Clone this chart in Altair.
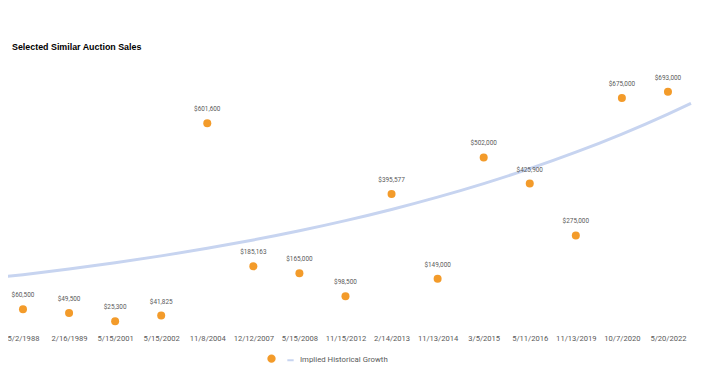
import json
import altair as alt
import pandas as pd

# ---- data ----
dates = ["5/2/1988", "2/16/1989", "5/15/2001", "5/15/2002", "11/8/2004",
         "12/12/2007", "5/15/2008", "11/15/2012", "2/14/2013", "11/13/2014",
         "3/5/2015", "5/11/2016", "11/13/2019", "10/7/2020", "5/20/2022"]
prices = [60500, 49500, 25300, 41825, 601600, 185163, 165000, 98500,
          395577, 149000, 502000, 425900, 275000, 675000, 693000]

# implied historical growth curve at category positions
trend_pos = [-0.5, 0, 1, 2, 3, 4, 5, 6, 7, 8, 9, 10, 11, 12, 13, 14, 14.5]
trend_vals = [153400, 161000, 177500, 195600, 215600, 237600, 261900, 288600,
              318100, 350600, 386400, 425800, 469300, 517200, 570000, 628200,
              659500]

SALES = " "
GROWTH = "Implied Historical Growth"
ORANGE = "#F39B2A"
BLUE = "#C7D4F0"

pts = pd.DataFrame({"idx": list(range(len(dates))), "date": dates,
                    "price": prices, "series": SALES})
trend = pd.DataFrame({"idx": trend_pos, "price": trend_vals, "series": GROWTH})

label_expr = "[" + ",".join(json.dumps(d) for d in dates) + "][round(datum.value)]"

x_scale = alt.Scale(domain=[-0.282, 14.5], nice=False, zero=False)
y_scale = alt.Scale(domain=[0, 800000], nice=False)
x_axis = alt.Axis(values=list(range(len(dates))), labelExpr=label_expr,
                  title=None, grid=False, domain=False, ticks=False,
                  labelFont="Roboto", labelFontSize=7.6, labelColor="#5a5a5a",
                  labelPadding=4, labelOverlap=False)

legend = alt.Legend(title=None, orient="none", direction="horizontal",
                    legendX=257, legendY=299,
                    labelFont="Roboto", labelFontSize=7.8,
                    labelColor="#5a5a5a", symbolSize=40,
                    symbolStrokeWidth=2, labelOffset=5, columnPadding=2)

color = alt.Color("series:N",
                  scale=alt.Scale(domain=[SALES, GROWTH], range=[ORANGE, BLUE]),
                  legend=legend)
shape = alt.Shape("series:N",
                  scale=alt.Scale(domain=[SALES, GROWTH], range=["circle", "stroke"]),
                  legend=legend)

line = alt.Chart(trend).mark_line(strokeWidth=3, interpolate="monotone").encode(
    x=alt.X("idx:Q", scale=x_scale, axis=x_axis),
    y=alt.Y("price:Q", scale=y_scale, axis=None),
    color=color,
)

points = alt.Chart(pts).mark_point(filled=True, size=64, opacity=1).encode(
    x=alt.X("idx:Q", scale=x_scale, axis=x_axis),
    y=alt.Y("price:Q", scale=y_scale, axis=None),
    color=color,
    shape=shape,
)

labels = alt.Chart(pts).transform_calculate(
    lab="format(datum.price, '$,')"
).mark_text(dy=-14, font="Roboto", fontSize=6.4, color="#5a5a5a").encode(
    x=alt.X("idx:Q", scale=x_scale, axis=x_axis),
    y=alt.Y("price:Q", scale=y_scale, axis=None),
    text="lab:N",
)

chart = alt.layer(line, points, labels).properties(
    width=681, height=275,
    title=alt.TitleParams("Selected Similar Auction Sales", anchor="start",
                          frame="group",
                          font="Liberation Sans", fontSize=8.9, fontWeight="bold",
                          color="#000000", offset=4.5, dx=2, dy=8,
                          baseline="alphabetic"),
    padding={"left": 2, "right": 2, "top": 47, "bottom": 36},
    autosize=alt.AutoSizeParams(type="none"),
).configure_view(stroke=None)

chart.save("out.html", embed_options={"renderer": "svg", "actions": False})
